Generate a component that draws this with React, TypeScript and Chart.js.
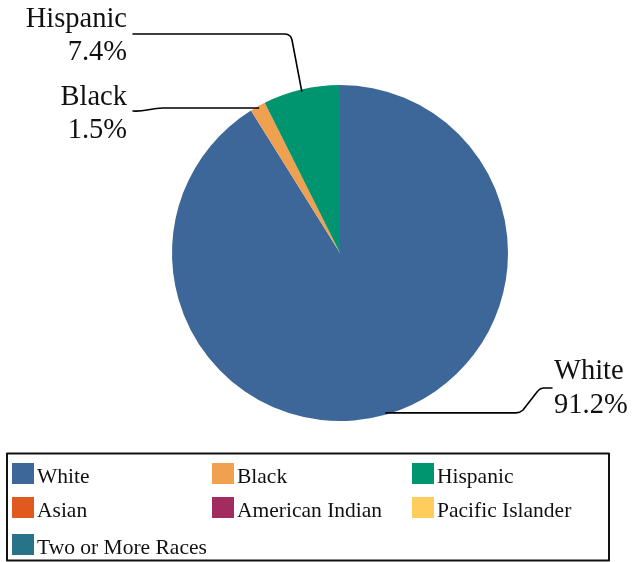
import React, { useEffect, useRef } from "react";
import { Chart, registerables } from "chart.js";

Chart.register(...registerables);

const categories = ["White", "Black", "Hispanic", "Asian", "American Indian", "Pacific Islander", "Two or More Races"];
const values = [91.2, 1.5, 7.4, 0, 0, 0, 0];
const colors = ["#3D6699", "#F0A150", "#00946F", "#E05A1F", "#A22B5F", "#FFCD5C", "#277489"];

const FONT = '"Liberation Serif", "Times New Roman", serif';

const labelPlugin = {
  id: "leaderLabels",
  afterDraw(chart: any) {
    const ctx = chart.ctx as CanvasRenderingContext2D;
    const meta = chart.getDatasetMeta(0);
    const endPoint = (i: number) => {
      const arc: any = meta.data[i];
      const mid = (arc.startAngle + arc.endAngle) / 2;
      const r = arc.outerRadius * 0.99;
      return { x: arc.x + Math.cos(mid) * r, y: arc.y + Math.sin(mid) * r };
    };
    ctx.save();
    ctx.strokeStyle = "#000";
    ctx.lineWidth = 1.6;
    ctx.lineJoin = "round";
    ctx.lineCap = "round";

    // Hispanic (index 2)
    let e = endPoint(2);
    ctx.beginPath();
    ctx.moveTo(133, 34);
    ctx.lineTo(285, 34);
    ctx.quadraticCurveTo(291, 34.5, 292, 40);
    ctx.lineTo(e.x, e.y);
    ctx.stroke();

    // Black (index 1)
    e = endPoint(1);
    ctx.beginPath();
    ctx.moveTo(133, 111);
    ctx.bezierCurveTo(145, 112, 150, e.y, 163, e.y);
    ctx.lineTo(e.x, e.y);
    ctx.stroke();

    // White (index 0)
    e = endPoint(0);
    ctx.beginPath();
    ctx.moveTo(552, 388);
    ctx.lineTo(544, 388);
    ctx.quadraticCurveTo(540, 388, 537, 392);
    ctx.lineTo(523, 410);
    ctx.quadraticCurveTo(520, e.y, 516, e.y);
    ctx.lineTo(e.x, e.y);
    ctx.stroke();

    ctx.fillStyle = "#111";
    ctx.font = `28.5px ${FONT}`;
    ctx.textBaseline = "alphabetic";
    ctx.textAlign = "right";
    ctx.fillText(categories[2], 127, 27);
    ctx.fillText(values[2].toFixed(1) + "%", 127, 60);
    ctx.fillText(categories[1], 127, 105);
    ctx.fillText(values[1].toFixed(1) + "%", 127, 138);
    ctx.textAlign = "left";
    ctx.fillText(categories[0], 554, 379);
    ctx.fillText(values[0].toFixed(1) + "%", 554, 412.5);

    // Legend box
    ctx.lineWidth = 2;
    ctx.strokeStyle = "#111";
    ctx.strokeRect(7, 453.5, 602, 107);

    const colX = [12, 212, 412];
    const rowTop = [463, 497, 534];
    ctx.font = `21.5px ${FONT}`;
    ctx.textAlign = "left";
    ctx.textBaseline = "alphabetic";
    categories.forEach((name, i) => {
      const c = i % 3;
      const r = Math.floor(i / 3);
      const x = colX[c];
      const y = rowTop[r];
      ctx.fillStyle = colors[i];
      ctx.fillRect(x, y, 22, 21);
      ctx.fillStyle = "#111";
      ctx.fillText(name, x + 25, y + 20);
    });
    ctx.restore();
  },
};

export default function App() {
  const ref = useRef<HTMLCanvasElement | null>(null);
  useEffect(() => {
    document.body.style.margin = "0";
    const canvas = ref.current;
    if (!canvas) return;
    const chart = new Chart(canvas, {
      type: "pie",
      data: {
        labels: categories,
        datasets: [
          {
            data: values,
            backgroundColor: colors,
            borderWidth: 0,
          },
        ],
      },
      options: {
        responsive: false,
        animation: false,
        layout: { padding: { top: 85, bottom: 141, left: 172, right: 130 } },
        plugins: {
          legend: { display: false },
          tooltip: { enabled: false },
        },
      },
      plugins: [labelPlugin],
    });
    return () => chart.destroy();
  }, []);
  return (
    <div style={{ width: 638, height: 562, background: "#fff" }}>
      <canvas ref={ref} width={638} height={562} style={{ width: 638, height: 562, display: "block" }} />
    </div>
  );
}
